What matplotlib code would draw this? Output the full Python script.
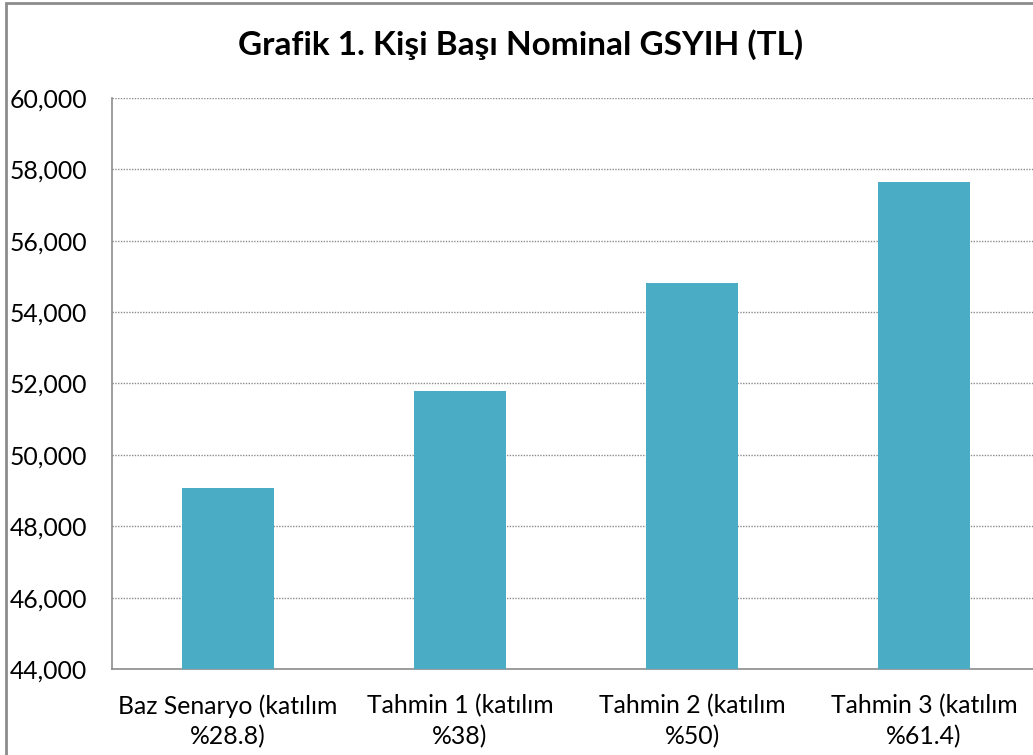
import matplotlib.pyplot as plt
from matplotlib.ticker import FuncFormatter, MultipleLocator
from matplotlib.patches import Rectangle

plt.rcParams['font.family'] = ['Lato', 'DejaVu Sans']

# data
categories = ["Baz Senaryo (katılım\n%28.8)", "Tahmin 1 (katılım\n%38)",
              "Tahmin 2 (katılım\n%50)", "Tahmin 3 (katılım\n%61.4)"]
values = [49080, 51790, 54830, 57650]
title = "Grafik 1. Kişi Başı Nominal GSYIH (TL)"

W, H = 1033, 755
fig = plt.figure(figsize=(W / 100, H / 100), dpi=100)

# outer chart border (cropped on right and bottom)
fig.patches.append(Rectangle((5.5 / W, -0.1), 1.2, (H - 2.5) / H + 0.1,
                             transform=fig.transFigure, fill=False,
                             edgecolor='#8c8c8c', linewidth=2))

# plot area extends slightly past the right edge
ax = fig.add_axes([112 / W, 1 - 669 / H, 928 / W, 571 / H])
x = range(len(values))
ax.bar(x, values, width=0.4, color='#4bacc6', zorder=3)

ax.set_xlim(-0.5, len(values) - 0.5)
ax.set_ylim(44000, 60000)
ax.yaxis.set_major_locator(MultipleLocator(2000))
ax.yaxis.set_major_formatter(FuncFormatter(lambda v, p: f"{int(v):,}"))
ax.set_xticks(list(x))
ax.set_xticklabels(categories, fontsize=17.8, linespacing=1.4)
ax.tick_params(axis='y', labelsize=17.8, length=0, pad=18)
ax.tick_params(axis='x', length=0, pad=18)

ax.grid(axis='y', color='#8c8c8c', linestyle=(0, (1, 1)), linewidth=1, zorder=0)
for s in ['top', 'right']:
    ax.spines[s].set_visible(False)
ax.spines['left'].set_color('#8c8c8c')
ax.spines['bottom'].set_color('#8c8c8c')
ax.spines['left'].set_linewidth(1.2)
ax.spines['bottom'].set_linewidth(1.2)

fig.text(521 / W, 1 - 45 / H, title, ha='center', va='center',
         fontsize=24, fontweight='bold')

fig.savefig('out.png', dpi=100)
